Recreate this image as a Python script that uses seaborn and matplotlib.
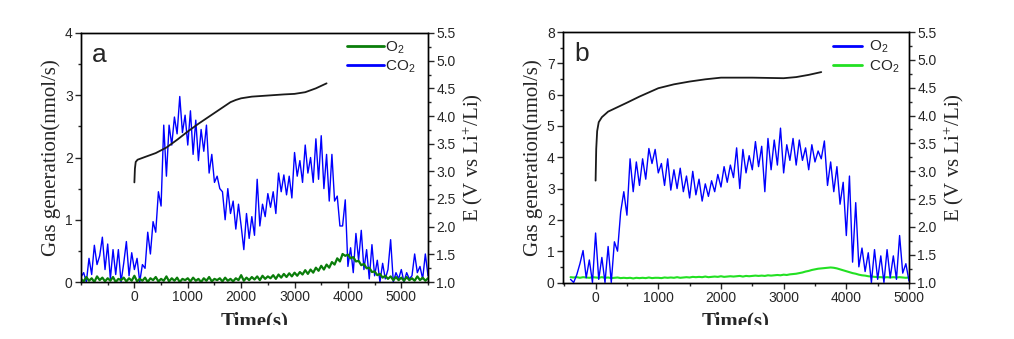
import numpy as np
import pandas as pd
import matplotlib
matplotlib.use("Agg")
import matplotlib.pyplot as plt
from matplotlib.ticker import MultipleLocator, FixedLocator, FormatStrFormatter
from matplotlib.patches import Rectangle
import seaborn as sns

# ---------------- data ----------------
# Panel a: time grid of the gas traces (s)
time_a = np.arange(-1000, 5501, 50)
co2_a = [
    0.08, 0.15, 0.0, 0.38, 0.12, 0.59, 0.28, 0.42, 0.72, 0.2,
    0.61, 0.05, 0.52, 0.12, 0.52, 0.0, 0.3, 0.65, 0.1, 0.47,
    0.2, 0.38, 0.0, 0.28, 0.22, 0.8, 0.45, 0.97, 0.8, 1.45,
    1.22, 2.52, 1.7, 2.52, 2.2, 2.65, 2.38, 2.98, 2.4, 2.68,
    2.2, 2.75, 2.05, 2.6, 1.95, 2.45, 2.1, 2.52, 1.75, 2.05,
    1.6, 1.7, 1.5, 1.45, 1.0, 1.5, 1.1, 1.3, 0.85, 1.25,
    0.9, 0.52, 1.1, 0.7, 1.05, 0.75, 1.65, 0.9, 1.25, 1.05,
    1.42, 1.2, 1.45, 1.1, 1.75, 1.45, 1.72, 1.4, 1.7, 1.35,
    2.08, 1.7, 1.95, 1.6, 2.2, 1.75, 2.0, 1.6, 2.3, 1.65,
    2.35, 1.5, 2.05, 1.3, 2.05, 1.3, 1.38, 0.9, 0.9, 1.32,
    0.25, 0.55, 0.15, 0.78, 0.35, 0.83, 0.2, 0.52, 0.05, 0.6,
    0.1, 0.35, 0.0, 0.3, 0.05, 0.2, 0.68, 0.0, 0.15, 0.05,
    0.2, 0.0, 0.15, 0.05, 0.1, 0.45, 0.15, 0.25, 0.05, 0.45, 0.1,
]
o2_a = [
    0.05, 0.01, 0.08, 0.02, 0.06, 0.0, 0.09, 0.03, 0.07, 0.01,
    0.06, 0.02, 0.08, 0.0, 0.05, 0.03, 0.07, 0.01, 0.06, 0.02,
    0.1, 0.01, 0.05, 0.02, 0.07, 0.0, 0.06, 0.03, 0.08, 0.01,
    0.05, 0.02, 0.09, 0.01, 0.06, 0.02, 0.07, 0.0, 0.05, 0.03,
    0.06, 0.01, 0.07, 0.02, 0.05, 0.0, 0.06, 0.02, 0.08, 0.01,
    0.05, 0.03, 0.06, 0.01, 0.07, 0.02, 0.05, 0.01, 0.06, 0.03,
    0.11, 0.02, 0.07, 0.03, 0.08, 0.04, 0.09, 0.03, 0.1, 0.05,
    0.09, 0.06, 0.11, 0.05, 0.12, 0.07, 0.13, 0.08, 0.14, 0.09,
    0.15, 0.1, 0.16, 0.12, 0.19, 0.13, 0.2, 0.15, 0.23, 0.18,
    0.26, 0.2, 0.28, 0.23, 0.32, 0.28, 0.38, 0.33, 0.45, 0.42,
    0.44, 0.38, 0.4, 0.33, 0.34, 0.27, 0.29, 0.22, 0.23, 0.16,
    0.17, 0.11, 0.13, 0.07, 0.1, 0.05, 0.09, 0.03, 0.08, 0.03,
    0.07, 0.02, 0.08, 0.03, 0.06, 0.02, 0.09, 0.03, 0.07, 0.02, 0.06,
]
# Panel a: potential curve
pot_t_a = [0, 10, 25, 60, 200, 400, 600, 800, 1000, 1200, 1400, 1600,
           1800, 1900, 2000, 2200, 2500, 2800, 3000, 3200, 3400, 3600]
pot_v_a = [2.80, 3.05, 3.17, 3.21, 3.26, 3.33, 3.43, 3.57, 3.72, 3.86, 3.99, 4.12,
           4.25, 4.29, 4.32, 4.35, 4.37, 4.39, 4.40, 4.43, 4.50, 4.59]

# Panel b: time grid of the gas traces (s)
time_b = np.arange(-400, 5001, 50)
o2_b = [
    0.1, 0.0, 0.25, 0.6, 1.02, 0.15, 0.72, 0.0,
    1.58, 0.1, 0.8, 0.0, 1.15, 0.0, 1.3, 1.0, 2.25, 2.9,
    2.15, 3.95, 2.9, 3.85, 3.1, 3.95, 3.3, 4.28, 3.8, 4.25,
    3.5, 3.8, 3.1, 3.95, 2.95, 3.6, 3.0, 3.65, 2.9, 3.4,
    2.7, 3.55, 2.8, 3.3, 2.6, 3.15, 2.75, 3.25, 2.9, 3.45,
    3.05, 3.7, 3.2, 3.75, 3.35, 4.3, 3.0, 4.25, 3.5, 4.05,
    3.6, 4.5, 3.7, 4.35, 2.9, 4.6, 3.6, 4.55, 3.75, 4.93,
    3.5, 4.4, 3.9, 4.6, 3.75, 4.55, 3.9, 4.3, 3.6, 4.4,
    3.85, 4.2, 3.95, 4.52, 3.1, 3.85, 2.9, 3.7, 2.5, 3.2,
    1.5, 3.4, 0.65, 2.55, 0.5, 1.1, 0.35, 0.95, 0.0, 1.05,
    0.1, 0.85, 0.0, 1.05, 0.15, 0.85, 0.1, 1.5, 0.3, 0.6,
    0.05,
]
co2_b = [
    0.17, 0.16, 0.17, 0.15, 0.17, 0.16, 0.15, 0.17,
    0.16, 0.15, 0.17, 0.15, 0.16, 0.14, 0.15, 0.16, 0.14, 0.15,
    0.14, 0.15, 0.13, 0.15, 0.14, 0.15, 0.14, 0.16, 0.14, 0.15,
    0.15, 0.14, 0.16, 0.15, 0.16, 0.15, 0.17, 0.15, 0.16, 0.17,
    0.16, 0.18, 0.17, 0.18, 0.17, 0.19, 0.17, 0.18, 0.19, 0.18,
    0.2, 0.18, 0.19, 0.2, 0.19, 0.2, 0.21, 0.19, 0.21, 0.2,
    0.21, 0.22, 0.21, 0.22, 0.21, 0.23, 0.22, 0.23, 0.24, 0.23,
    0.25, 0.24, 0.26, 0.27, 0.28, 0.3, 0.32, 0.35, 0.37, 0.4,
    0.42, 0.44, 0.45, 0.46, 0.47, 0.48, 0.47, 0.45, 0.42, 0.39,
    0.36, 0.33, 0.3, 0.28, 0.25, 0.23, 0.22, 0.2, 0.19, 0.18,
    0.17, 0.17, 0.16, 0.17, 0.16, 0.17, 0.16, 0.17, 0.16, 0.15,
    0.16,
]
pot_t_b = [0, 10, 25, 50, 100, 200, 350, 500, 700, 1000, 1250, 1500,
           1750, 2000, 2500, 3000, 3200, 3400, 3600]
pot_v_b = [2.83, 3.40, 3.72, 3.88, 3.97, 4.07, 4.15, 4.23, 4.34, 4.49, 4.56, 4.61,
           4.65, 4.68, 4.68, 4.67, 4.69, 4.73, 4.78]

x_ticks = [0, 1000, 2000, 3000, 4000, 5000]
left_label = "Gas generation(nmol/s)"
right_label = "E (V vs Li$^{+}$/Li)"
x_label = "Time(s)"

# ---------------- style ----------------
sns.set_style("ticks")
plt.rcParams["font.family"] = ["Liberation Sans", "DejaVu Sans"]
plt.rcParams["mathtext.default"] = "regular"
plt.rcParams["xtick.direction"] = "out"
plt.rcParams["ytick.direction"] = "out"

fig = plt.figure(figsize=(10.14, 3.39), dpi=100)
W, H = 1014, 339

serif = ["Liberation Serif", "DejaVu Serif"]


def make_panel(rect, t_gas, s1, s2, names, colors, lws, pot_t, pot_v,
               xlim, ylim, ymaj, letter, leg_anchor, handlelen, textpad):
    ax = fig.add_axes(rect)
    df = pd.DataFrame({"t": t_gas, "s1": s1, "s2": s2})
    sns.lineplot(data=df, x="t", y="s1", ax=ax, color=colors[0], lw=lws[0],
                 label=names[0], estimator=None, sort=False, zorder=3)
    sns.lineplot(data=df, x="t", y="s2", ax=ax, color=colors[1], lw=lws[1],
                 label=names[1], estimator=None, sort=False, zorder=2)
    ax.set_xlim(*xlim)
    ax.set_ylim(*ylim)
    ax.xaxis.set_major_locator(FixedLocator(x_ticks))
    ax.xaxis.set_minor_locator(MultipleLocator(500))
    ax.yaxis.set_major_locator(MultipleLocator(ymaj))
    ax.yaxis.set_minor_locator(MultipleLocator(ymaj / 2))
    ax.tick_params(which="major", length=4, width=1, labelsize=10, pad=2)
    ax.tick_params(which="minor", length=2.5, width=1)
    ax.set_xlabel(x_label, fontsize=15, fontweight="bold", family=serif, labelpad=5)
    ax.set_ylabel(left_label, fontsize=15, family=serif, labelpad=3)
    for sp in ax.spines.values():
        sp.set_linewidth(1)
        sp.set_color("black")
    leg = ax.legend(loc="upper right", bbox_to_anchor=leg_anchor, frameon=False,
                    fontsize=11, handlelength=handlelen, handletextpad=textpad,
                    borderaxespad=0, borderpad=0, labelspacing=0.2)
    for line in leg.get_lines():
        line.set_linewidth(2)
    ax.text(0.032, 0.884, letter, transform=ax.transAxes, fontsize=19,
            va="baseline", ha="left")

    axr = ax.twinx()
    dfp = pd.DataFrame({"t": pot_t, "v": pot_v})
    sns.lineplot(data=dfp, x="t", y="v", ax=axr, color="#1a1a1a", lw=1.3,
                 estimator=None, sort=False, legend=False)
    axr.set_ylim(1.0, 5.5)
    axr.yaxis.set_major_locator(MultipleLocator(0.5))
    axr.yaxis.set_minor_locator(MultipleLocator(0.25))
    axr.yaxis.set_major_formatter(FormatStrFormatter("%.1f"))
    axr.tick_params(which="major", length=4, width=1, labelsize=10, pad=2)
    axr.tick_params(which="minor", length=2.5, width=1)
    axr.set_ylabel(right_label, fontsize=15, family=serif, labelpad=4)
    axr.set_xlabel("")
    for sp in axr.spines.values():
        sp.set_linewidth(1)
        sp.set_color("black")
    return ax, axr


make_panel([81 / W, 1 - 282 / H, 347 / W, 249 / H], time_a, o2_a, co2_a,
           ["O$_2$", "CO$_2$"], ["#0a7d0a", "#0000ff"], [1.6, 1.0],
           pot_t_a, pot_v_a, (-1000, 5500), (0, 4), 1, "a",
           (0.965, 0.975), 2.4, 0.1)

make_panel([563 / W, 1 - 282.5 / H, 346 / W, 250.5 / H], time_b, o2_b, co2_b,
           ["O$_2$", "CO$_2$"], ["#0000ff", "#22e022"], [1.0, 1.5],
           pot_t_b, pot_v_b, (-520, 5000), (0, 8), 1, "b",
           (0.971, 0.972), 1.9, 0.4)

# the reference image is cropped just below the top half of the x-axis titles
fig.add_artist(Rectangle((0, 0), 1, 14 / H, transform=fig.transFigure,
                         facecolor="white", edgecolor="none", zorder=10))

fig.savefig("out.png", dpi=100)
